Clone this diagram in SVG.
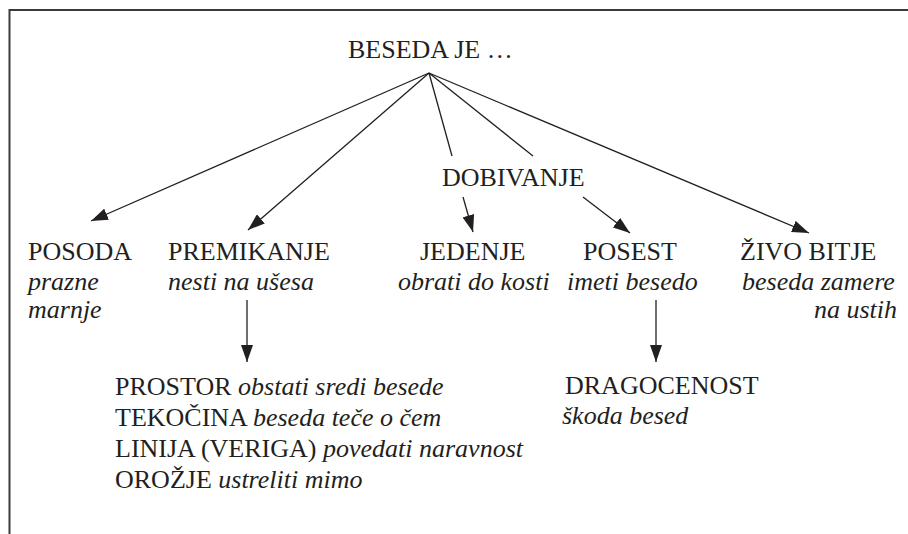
<svg xmlns="http://www.w3.org/2000/svg" width="908" height="534" viewBox="0 0 908 534">
<defs>
<style>
text{font-family:'Liberation Serif','DejaVu Serif',serif;font-size:26px;fill:#231f20}
.i{font-style:italic}
.c{stroke:#231f20;stroke-width:1.3;fill:none}
.a{marker-end:url(#arr)}
.frame{stroke:#3a3a3a;stroke-width:2;fill:none}
</style>
<marker id="arr" viewBox="0 0 17 12" refX="17" refY="6" markerWidth="17" markerHeight="12" markerUnits="userSpaceOnUse" orient="auto">
<path d="M0,0 L17,6 L0,12 Z" fill="#231f20"/>
</marker>
</defs>
<rect width="908" height="534" fill="#fff"/>
<path class="frame" d="M9.5,534 V10 H908"/>
<g id="connectors">
<line class="c a" x1="429" y1="73" x2="91" y2="221"/>
<line class="c a" x1="429" y1="73" x2="248" y2="230"/>
<line class="c" x1="429" y1="73" x2="452" y2="156"/>
<line class="c" x1="429" y1="73" x2="533" y2="156"/>
<line class="c a" x1="429" y1="73" x2="809" y2="233"/>
<line class="c a" x1="463" y1="197" x2="473" y2="232"/>
<line class="c a" x1="583" y1="197" x2="630" y2="233"/>
<line class="c a" x1="247" y1="300" x2="247" y2="362"/>
<line class="c a" x1="656" y1="300" x2="656" y2="362"/>
</g>
<g font-family="Liberation Serif, DejaVu Serif, serif">
<g id="root"><text x="348" y="58">BESEDA JE …</text></g>
<g id="dobivanje"><text x="442" y="186">DOBIVANJE</text></g>
<g id="posoda">
<text x="28" y="260">POSODA</text>
<text class="i" x="28" y="290">prazne</text>
<text class="i" x="28" y="318">marnje</text>
</g>
<g id="premikanje">
<text x="168" y="260">PREMIKANJE</text>
<text class="i" x="168" y="290">nesti na ušesa</text>
</g>
<g id="jedenje">
<text x="420" y="260">JEDENJE</text>
<text class="i" x="398" y="290">obrati do kosti</text>
</g>
<g id="posest">
<text x="583" y="260">POSEST</text>
<text class="i" x="567" y="290">imeti besedo</text>
</g>
<g id="zivo-bitje">
<text x="740" y="260">ŽIVO BITJE</text>
<text class="i" x="742" y="290">beseda zamere</text>
<text class="i" x="897" y="318" text-anchor="end">na ustih</text>
</g>
<g id="premikanje-sub">
<text x="115" y="395">PROSTOR <tspan class="i">obstati sredi besede</tspan></text>
<text x="115" y="426">TEKOČINA <tspan class="i">beseda teče o čem</tspan></text>
<text x="115" y="457">LINIJA (VERIGA) <tspan class="i">povedati naravnost</tspan></text>
<text x="115" y="488">OROŽJE <tspan class="i">ustreliti mimo</tspan></text>
</g>
<g id="dragocenost">
<text x="565" y="394">DRAGOCENOST</text>
<text class="i" x="562" y="424">škoda besed</text>
</g>
</g>
</svg>
